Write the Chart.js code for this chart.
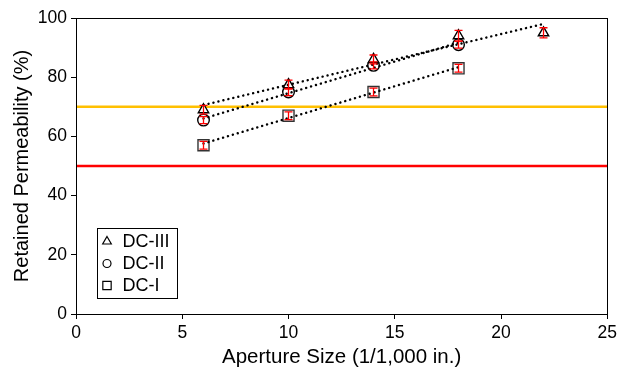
<!DOCTYPE html>
<html><head><meta charset="utf-8">
<script src="https://cdn.jsdelivr.net/npm/chart.js@4/dist/chart.umd.min.js"></script>
<style>html,body{margin:0;padding:0;background:#fff}</style>
</head><body>
<canvas id="c" width="621" height="368"></canvas>
<script>
// ---- data ----
const seriesNames = ['DC-III', 'DC-II', 'DC-I'];
const apertureDC3 = [6, 10, 14, 18, 22];
const valuesDC3 = [69, 77.5, 86, 94, 95];
const errorsDC3 = [1.5, 1.5, 1.5, 1.8, 1.7];
const apertureDC2 = [6, 10, 14, 18];
const valuesDC2 = [65.5, 75, 84, 91];
const errorsDC2 = [1.2, 1.2, 1.2, 1.2];
const apertureDC1 = [6, 10, 14, 18];
const valuesDC1 = [57, 67, 75, 83];
const errorsDC1 = [1.3, 1.3, 1.3, 1.3];
const thresholdHigh = 70;
const thresholdLow = 50;
const xRange = [0, 25];
const yRange = [0, 100];
const xStep = 5;
const yStep = 20;

const FONT = "'Liberation Sans', Arial, Helvetica, sans-serif";

function pts(xs, ys) { return xs.map((x, i) => ({ x: x, y: ys[i] })); }
function trend(xs, ys) {
  const n = xs.length;
  const mx = xs.reduce((a, b) => a + b, 0) / n;
  const my = ys.reduce((a, b) => a + b, 0) / n;
  let sxy = 0, sxx = 0;
  for (let i = 0; i < n; i++) { sxy += (xs[i] - mx) * (ys[i] - my); sxx += (xs[i] - mx) ** 2; }
  const b = sxy / sxx, a = my - b * mx;
  const x0 = Math.min(...xs), x1 = Math.max(...xs);
  return [{ x: x0, y: a + b * x0 }, { x: x1, y: a + b * x1 }];
}

const markerCommon = { showLine: false, pointBackgroundColor: '#fff', pointBorderWidth: 1.4, order: 5 };
const trendCommon = { type: 'line', borderColor: '#000', borderWidth: 2.4, borderDash: [0.1, 5], borderCapStyle: 'round', pointRadius: 0, fill: false, order: 1 };

const errorSets = [
  { xs: apertureDC3, ys: valuesDC3, es: errorsDC3 },
  { xs: apertureDC2, ys: valuesDC2, es: errorsDC2 },
  { xs: apertureDC1, ys: valuesDC1, es: errorsDC1 }
];

const extras = {
  id: 'extras',
  afterDatasetsDraw(chart) {
    const ctx = chart.ctx, xs = chart.scales.x, ys = chart.scales.y;
    ctx.save();
    ctx.strokeStyle = '#ff0000';
    ctx.lineWidth = 1.3;
    errorSets.forEach(s => {
      s.xs.forEach((xv, i) => {
        const px = xs.getPixelForValue(xv);
        const top = ys.getPixelForValue(s.ys[i] + s.es[i]);
        const bot = ys.getPixelForValue(s.ys[i] - s.es[i]);
        ctx.beginPath();
        ctx.moveTo(px, top); ctx.lineTo(px, bot);
        ctx.moveTo(px - 4, top); ctx.lineTo(px + 4, top);
        ctx.moveTo(px - 4, bot); ctx.lineTo(px + 4, bot);
        ctx.stroke();
      });
    });
    ctx.restore();
  },
  afterDraw(chart) {
    const ctx = chart.ctx, a = chart.chartArea;
    ctx.save();
    ctx.strokeStyle = '#000';
    ctx.lineWidth = 1;
    ctx.strokeRect(Math.round(a.left) + 0.5, Math.round(a.top) + 0.5, Math.round(a.right - a.left), Math.round(a.bottom - a.top));
    // legend box inside plot area
    const bx = Math.round(a.left + 21) + 0.5, by = Math.round(a.bottom - 86) + 0.5;
    const bw = 80, bh = 70;
    ctx.fillStyle = '#fff';
    ctx.fillRect(bx, by, bw, bh);
    ctx.strokeRect(bx, by, bw, bh);
    const styles = ['triangle', 'circle', 'rect'];
    const radii = [5, 4, 5.9];
    ctx.font = '18px ' + FONT;
    ctx.textBaseline = 'middle';
    seriesNames.forEach((name, i) => {
      const cy = by + 13 + i * 22;
      const cx = bx + 9.5;
      ctx.strokeStyle = '#000';
      ctx.fillStyle = '#fff';
      ctx.lineWidth = 1.2;
      Chart.helpers.drawPoint(ctx, { pointStyle: styles[i], radius: radii[i], borderWidth: 1.2, rotation: 0 }, cx, cy);
      ctx.fillStyle = '#000';
      ctx.fillText(name, bx + 25, cy + 1);
    });
    ctx.restore();
  }
};

new Chart(document.getElementById('c'), {
  type: 'scatter',
  data: {
    datasets: [
      Object.assign({ label: seriesNames[0], data: pts(apertureDC3, valuesDC3), pointStyle: 'triangle', pointRadius: 6, pointBorderColor: '#000' }, markerCommon),
      Object.assign({ label: seriesNames[1], data: pts(apertureDC2, valuesDC2), pointStyle: 'circle', pointRadius: 5.8, pointBorderColor: '#000' }, markerCommon),
      Object.assign({ label: seriesNames[2], data: pts(apertureDC1, valuesDC1), pointStyle: 'rect', pointRadius: 7.8, pointBorderColor: '#333' }, markerCommon),
      Object.assign({ label: 'trend DC-III', data: trend(apertureDC3, valuesDC3) }, trendCommon),
      Object.assign({ label: 'trend DC-II', data: trend(apertureDC2, valuesDC2) }, trendCommon),
      Object.assign({ label: 'trend DC-I', data: trend(apertureDC1, valuesDC1) }, trendCommon),
      { type: 'line', label: '70%', data: [{ x: xRange[0], y: thresholdHigh }, { x: xRange[1], y: thresholdHigh }], borderColor: '#ffc000', borderWidth: 2.5, pointRadius: 0, order: 10 },
      { type: 'line', label: '50%', data: [{ x: xRange[0], y: thresholdLow }, { x: xRange[1], y: thresholdLow }], borderColor: '#ff0000', borderWidth: 2.5, pointRadius: 0, order: 10 }
    ]
  },
  options: {
    responsive: false,
    animation: false,
    events: [],
    layout: { padding: { top: 18, right: 13, left: 0, bottom: 0 } },
    plugins: { legend: { display: false }, tooltip: { enabled: false } },
    scales: {
      x: {
        type: 'linear', min: xRange[0], max: xRange[1],
        ticks: { stepSize: xStep, color: '#000', font: { family: FONT, size: 17.5 }, padding: 4, maxRotation: 0 },
        grid: { drawOnChartArea: false, drawTicks: true, tickLength: 5, color: '#000' },
        border: { color: '#000', width: 1 },
        title: { display: true, text: 'Aperture Size (1/1,000 in.)', color: '#000', font: { family: FONT, size: 20.5, lineHeight: 1 }, padding: { top: 0, bottom: 0 } },
        afterFit(axis) { axis.height = 54; }
      },
      y: {
        min: yRange[0], max: yRange[1],
        ticks: { stepSize: yStep, color: '#000', font: { family: FONT, size: 17.5 }, padding: 4 },
        grid: { drawOnChartArea: false, drawTicks: true, tickLength: 5, color: '#000' },
        border: { color: '#000', width: 1 },
        title: { display: true, text: 'Retained Permeability (%)', color: '#000', font: { family: FONT, size: 20, lineHeight: 1.2 }, padding: { top: 10, bottom: 0 } },
        afterFit(axis) { axis.width = 76; }
      }
    }
  },
  plugins: [extras]
});
</script>
</body></html>
